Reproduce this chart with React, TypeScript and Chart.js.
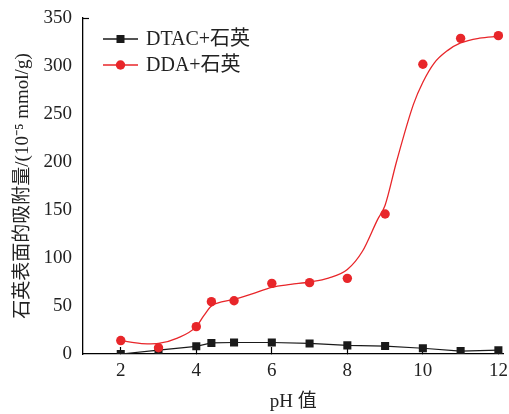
import React, { useEffect, useRef } from 'react';
import { Chart, registerables } from 'chart.js';

Chart.register(...registerables);

const xTicks = [2, 4, 6, 8, 10, 12];
const yTicks = [0, 50, 100, 150, 200, 250, 300, 350];
const seriesLabels = ['DTAC+石英', 'DDA+石英'];
const phValues = [2, 3, 4, 4.4, 5, 6, 7, 8, 9, 10, 11, 12];
const dtacValues = [0, 4, 8, 11.5, 12, 12, 11, 9, 8.3, 6, 3, 4];
const ddaValues = [14, 6.5, 28.5, 54.5, 55.5, 73.6, 74.3, 78.8, 145.8, 301.8, 328.8, 331.6];
const ddaFitX = [2, 2.3, 2.7, 3.0, 3.5, 4.0, 4.2, 4.4, 4.7, 5.0, 5.5, 6.0, 6.5, 7.0, 7.5, 8.0, 8.4, 8.8, 9.0, 9.3, 9.75, 10.0, 10.3, 10.65, 11.0, 11.5, 12.0];
const ddaFitY = [14, 12, 10.5, 11, 16.5, 28.5, 40, 50, 54.5, 57, 63, 69.5, 72.5, 75, 79, 88, 107, 140, 155, 200, 260, 283, 303, 316, 324, 329, 331];

const FONT = "'Liberation Serif', 'Times New Roman', 'Noto Sans CJK SC', serif";
const BLACK = '#1a1a1a';
const RED = '#e8262a';

const legendPlugin = {
  id: 'insideLegend',
  afterDraw(chart: any) {
    const { ctx, chartArea } = chart;
    const x0 = chartArea.left + 20;
    const x1 = chartArea.left + 55;
    const xm = (x0 + x1) / 2;
    const rows = [
      { y: chartArea.top + 21, color: BLACK, shape: 'rect', label: seriesLabels[0] },
      { y: chartArea.top + 47, color: RED, shape: 'circle', label: seriesLabels[1] },
    ];
    ctx.save();
    rows.forEach((r) => {
      ctx.strokeStyle = r.color;
      ctx.lineWidth = 1.3;
      ctx.beginPath();
      ctx.moveTo(x0, r.y);
      ctx.lineTo(x1, r.y);
      ctx.stroke();
      ctx.fillStyle = r.color;
      if (r.shape === 'rect') {
        ctx.fillRect(xm - 4, r.y - 4, 8, 8);
      } else {
        ctx.beginPath();
        ctx.arc(xm, r.y, 4.7, 0, Math.PI * 2);
        ctx.fill();
      }
      ctx.fillStyle = '#222';
      ctx.font = `20px ${FONT}`;
      ctx.textBaseline = 'middle';
      ctx.textAlign = 'left';
      ctx.fillText(r.label, x1 + 8, r.y + 1);
    });
    ctx.restore();
  },
};

export default function App() {
  const ref = useRef<HTMLCanvasElement>(null);

  useEffect(() => {
    document.body.style.margin = '0';
    const canvas = ref.current;
    if (!canvas) return;
    const chart = new Chart(canvas, {
      type: 'line',
      data: {
        datasets: [
          {
            label: seriesLabels[1],
            data: phValues.map((x, i) => ({ x, y: ddaValues[i] })),
            showLine: false,
            pointStyle: 'circle',
            pointRadius: 4.7,
            pointBackgroundColor: RED,
            pointBorderColor: RED,
            pointBorderWidth: 0,
            borderColor: RED,
          },
          {
            label: 'fit',
            data: ddaFitX.map((x, i) => ({ x, y: ddaFitY[i] })),
            borderColor: RED,
            borderWidth: 1.3,
            pointRadius: 0,
            cubicInterpolationMode: 'monotone',
            fill: false,
          },
          {
            label: seriesLabels[0],
            data: phValues.map((x, i) => ({ x, y: dtacValues[i] })),
            borderColor: BLACK,
            borderWidth: 1.2,
            tension: 0,
            pointStyle: 'rect',
            pointRadius: 5.7,
            pointBackgroundColor: BLACK,
            pointBorderColor: BLACK,
            pointBorderWidth: 0,
            fill: false,
          },
        ],
      },
      options: {
        animation: false,
        responsive: false,
        maintainAspectRatio: false,
        layout: { padding: { top: 18, right: 5, left: 0, bottom: 0 } },
        plugins: { legend: { display: false }, tooltip: { enabled: false } },
        scales: {
          x: {
            type: 'linear',
            min: 1,
            max: 12.13,
            afterBuildTicks: (s: any) => {
              s.ticks = xTicks.map((v) => ({ value: v }));
            },
            afterFit: (s: any) => {
              s.height = 60;
              s.paddingLeft = 0;
              s.paddingRight = 0;
              s.paddingTop = 0;
              s.paddingBottom = 0;
            },
            border: { display: true, color: '#000', width: 1.3 },
            grid: {
              display: true,
              drawOnChartArea: false,
              drawTicks: true,
              tickLength: -7,
              tickColor: '#000',
              tickWidth: 1.2,
            },
            ticks: {
              color: '#222',
              font: { family: FONT, size: 19 },
              padding: 13,
              maxRotation: 0,
              autoSkip: false,
            },
            title: {
              display: true,
              text: 'pH 值',
              color: '#222',
              font: { family: FONT, size: 19 },
              padding: { top: 0, bottom: 1 },
            },
          },
          y: {
            type: 'linear',
            min: 0,
            max: 350,
            afterBuildTicks: (s: any) => {
              s.ticks = yTicks.map((v) => ({ value: v }));
            },
            afterFit: (s: any) => {
              s.width = 83;
              s.paddingLeft = 0;
              s.paddingRight = 0;
              s.paddingTop = 0;
              s.paddingBottom = 0;
            },
            border: { display: true, color: '#000', width: 1.3 },
            grid: {
              display: true,
              drawOnChartArea: false,
              drawTicks: true,
              tickLength: -6,
              tickWidth: 1.2,
              tickColor: (c: any) => (c.tick && c.tick.value === 350 ? '#000' : 'rgba(0,0,0,0)'),
            },
            ticks: {
              color: '#222',
              font: { family: FONT, size: 19 },
              padding: 17,
              autoSkip: false,
            },
            title: {
              display: true,
              text: '石英表面的吸附量/(10⁻⁵ mmol/g)',
              color: '#222',
              font: { family: FONT, size: 19 },
              padding: { top: 12, bottom: 0 },
            },
          },
        },
      },
      plugins: [legendPlugin],
    } as any);
    return () => chart.destroy();
  }, []);

  return (
    <div style={{ width: 509, height: 414 }}>
      <canvas ref={ref} width={509} height={414} style={{ width: 509, height: 414, display: 'block' }} />
    </div>
  );
}
